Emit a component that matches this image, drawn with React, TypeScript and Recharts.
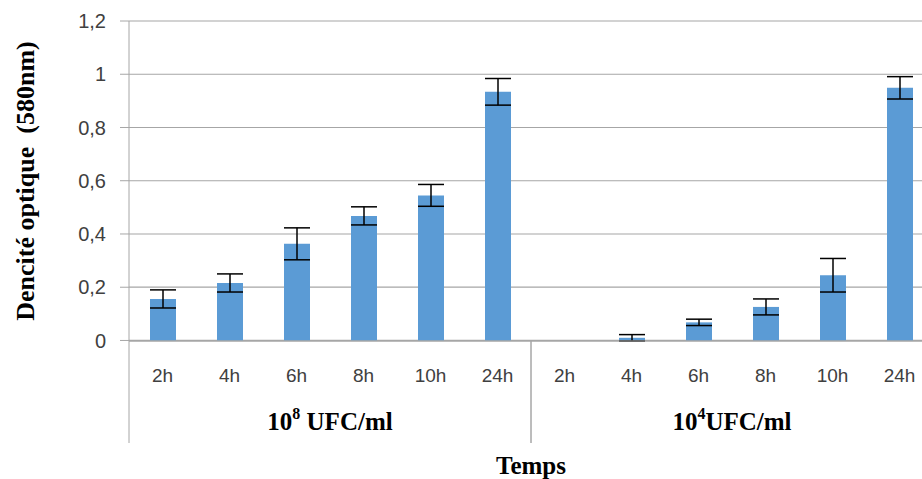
import React from 'react';
import { BarChart, Bar, XAxis, YAxis, CartesianGrid, ErrorBar } from 'recharts';

const times = ['2h', '4h', '6h', '8h', '10h', '24h', '2h', '4h', '6h', '8h', '10h', '24h'];
const opticalDensity = [0.156, 0.216, 0.363, 0.468, 0.545, 0.934, 0, 0.01, 0.068, 0.126, 0.245, 0.949];
const errors = [0.034, 0.034, 0.06, 0.034, 0.041, 0.05, null, 0.012, 0.012, 0.03, 0.063, 0.042];
const groupExponents = ['8', '4'];
const groupSuffixes = ['\u00A0UFC/ml', 'UFC/ml'];
const yTicks = [0, 0.2, 0.4, 0.6, 0.8, 1, 1.2];

const data = times.map((t, i) => ({ key: i, time: t, od: opticalDensity[i], err: errors[i] }));

const CHART_W = 940;
const CHART_H = 479;
const Y_AXIS_W = 129;
const X_AXIS_H = 138;
const RIGHT = 7;
const BAND = (CHART_W - Y_AXIS_W - RIGHT) / times.length;
const PER_GROUP = 6;
const GRID = '#A6A6A6';
const TEXT = '#404040';
const SANS = '"Liberation Sans", Arial, sans-serif';
const SERIF = '"Liberation Serif", "Times New Roman", serif';

const CategoryTick = (props: any) => {
  const { x, payload } = props;
  const i = Number(payload.value);
  const top = CHART_H - X_AXIS_H;
  const pos = i % PER_GROUP;
  const g = Math.floor(i / PER_GROUP);
  return (
    <g>
      <text x={x} y={top + 34} textAnchor="middle" dominantBaseline="central" fill={TEXT} fontSize={19} fontFamily={SANS}>
        {times[i]}
      </text>
      {pos === 0 && <line x1={x - BAND / 2} x2={x - BAND / 2} y1={top} y2={top + 102} stroke={GRID} />}
      {pos === PER_GROUP - 1 && <line x1={x + BAND / 2} x2={x + BAND / 2} y1={top} y2={top + 102} stroke={GRID} />}
      {pos === 2 && (
        <text x={x + BAND / 2} y={top + 80} textAnchor="middle" dominantBaseline="central" fill="#000" fontSize={25} fontWeight="bold" fontFamily={SERIF}>
          10
          <tspan dy={-8} fontSize={16}>{groupExponents[g]}</tspan>
          <tspan dy={8}>{groupSuffixes[g]}</tspan>
        </text>
      )}
    </g>
  );
};

const YTitle = (props: any) => {
  const vb = props.viewBox;
  const cy = vb.y + vb.height / 2;
  return (
    <text x={25} y={cy} transform={`rotate(-90 25 ${cy})`} textAnchor="middle" dominantBaseline="central" fontSize={26} fontWeight="bold" fontFamily={SERIF} fill="#000">
      {'Dencité optique\u00A0\u00A0(580nm)'}
    </text>
  );
};

const XTitle = (props: any) => {
  const vb = props.viewBox;
  return (
    <text x={vb.x + vb.width / 2} y={CHART_H - 14} textAnchor="middle" dominantBaseline="central" fontSize={25} fontWeight="bold" fontFamily={SERIF} fill="#000">
      Temps
    </text>
  );
};

export default function App() {
  return (
    <div style={{ position: 'absolute', left: 0, top: 0, width: 922, height: 479, overflow: 'hidden', background: '#fff' }}>
      <BarChart width={CHART_W} height={CHART_H} data={data} margin={{ top: 21, right: RIGHT, bottom: 0, left: 0 }}>
        <CartesianGrid vertical={false} stroke={GRID} strokeWidth={1.2} />
        <XAxis
          dataKey="key"
          height={X_AXIS_H}
          interval={0}
          tickLine={false}
          axisLine={{ stroke: GRID }}
          tick={<CategoryTick />}
          label={<XTitle />}
        />
        <YAxis
          width={Y_AXIS_W}
          domain={[0, 1.2]}
          ticks={yTicks}
          tickSize={9}
          tickMargin={14}
          axisLine={{ stroke: GRID }}
          tickLine={{ stroke: GRID }}
          tick={{ fill: TEXT, fontSize: 20, fontFamily: SANS }}
          tickFormatter={(v: number) => String(v).replace('.', ',')}
          label={<YTitle />}
        />
        <Bar dataKey="od" fill="#5B9BD5" barSize={26} isAnimationActive={false}>
          <ErrorBar dataKey="err" width={13} stroke="#000" strokeWidth={1.5} direction="y" isAnimationActive={false} />
        </Bar>
      </BarChart>
    </div>
  );
}
